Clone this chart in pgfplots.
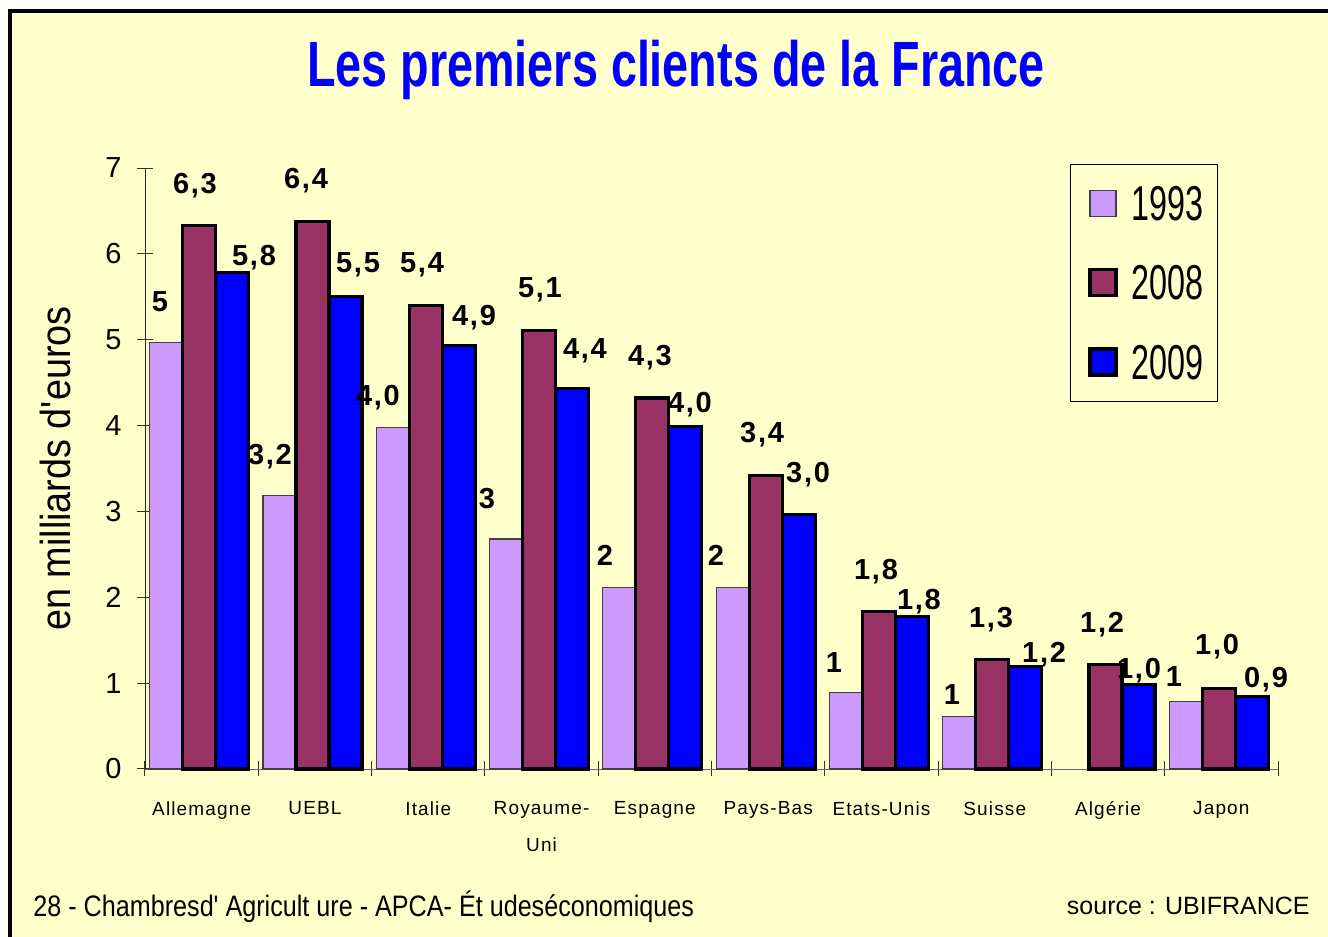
\documentclass[border=0pt]{standalone}
\usepackage{fontspec}
\setmainfont{Liberation Sans}
\newfontfamily\titlefont[FakeStretch=0.73]{Liberation Sans}
\newfontfamily\legfont[FakeStretch=0.66]{Liberation Sans}
\newfontfamily\ylabfont[FakeStretch=0.9]{Liberation Sans}
\newfontfamily\lblfont[LetterSpace=6]{Liberation Sans}
\newfontfamily\catfont[LetterSpace=6]{Liberation Sans}
\newfontfamily\footfont[FakeStretch=0.85]{Liberation Sans}
\usepackage{pgfplots}
\usepackage{pgfplotstable}
\pgfplotsset{compat=1.18}

\definecolor{bg}{HTML}{FFFFCC}
\definecolor{c93}{HTML}{CC99FF}
\definecolor{c08}{HTML}{993366}
\definecolor{c09}{HTML}{0000FF}

% bar values (milliards d'euros), category index 0..9
\pgfplotstableread{
x y
0 4.97
1 3.19
2 3.98
3 2.68
4 2.11
5 2.11
6 0.89
7 0.61
9 0.79
}\tA
\pgfplotstableread{
x y
0 6.33
1 6.38
2 5.40
3 5.11
4 4.32
5 3.42
6 1.83
7 1.28
8 1.22
9 0.94
}\tB
\pgfplotstableread{
x y
0 5.78
1 5.50
2 4.93
3 4.43
4 3.99
5 2.96
6 1.78
7 1.19
8 0.98
9 0.84
}\tC

% where the printed labels sit (as in the original, not right on the bars)
\pgfplotstableread{
x y lab
-0.368 5.439 5
0.603 3.634 3,2
1.556 4.321 4,0
2.519 3.145 3
3.560 2.492 2
4.540 2.492 2
5.581 1.235 1
6.623 0.862 1
8.582 1.072 1
}\lA
\pgfplotstableread{
x y lab
-0.059 6.790 6,3
0.921 6.848 6,4
1.945 5.870 5,4
2.986 5.579 5,1
3.957 4.787 4,3
4.946 3.890 3,4
5.952 2.294 1,8
6.967 1.735 1,3
7.947 1.677 1,2
8.962 1.421 1,0
}\lB
\pgfplotstableread{
x y lab
0.462 5.952 5,8
1.380 5.870 5,5
2.404 5.253 4,9
3.383 4.868 4,4
4.310 4.239 4,0
5.352 3.424 3,0
6.331 1.945 1,8
7.435 1.328 1,2
8.273 1.141 1,0
9.394 1.037 0,9
}\lC

\pgfplotsset{
  sq/.style={legend image code/.code={\path (0pt,0pt); \draw[##1] (2pt,-6.5pt) rectangle (15pt,6.5pt);}},
  lbl/.style={
    draw=none, mark=none, forget plot,
    nodes near coords,
    point meta=explicit symbolic,
    every node near coord/.append style={anchor=center, inner sep=0pt,
      font=\lblfont\bfseries\fontsize{14.5}{16}\selectfont, text=black}
  }
}

\begin{document}
\begin{tikzpicture}[x=0.5pt,y=0.5pt]
\useasboundingbox (0,0) rectangle (1328,937);
\fill[white] (0,0) rectangle (1328,937);
\fill[bg] (10,0) rectangle (1328,926);
\draw[line width=2pt] (10,0) -- (10,926) -- (1328,926);

\begin{axis}[
  at={(72.5pt,84pt)}, anchor=south west,
  scale only axis, width=566.5pt, height=300.5pt,
  xmin=-0.5, xmax=9.5, ymin=0, ymax=7,
  clip=false,
  axis x line*=bottom, axis y line*=left,
  axis line style={-},
  x axis line style={draw=black!60},
  y axis line style={draw=black!85},
  xtick={-0.5,0.5,...,9.5},
  x tick label as interval,
  xticklabels={Allemagne,UEBL,Italie,Royaume-\\Uni,Espagne,Pays-Bas,Etats-Unis,Suisse,Algérie,Japon},
  x tick label style={font=\catfont\fontsize{9.5}{18.5}\selectfont, align=center, yshift=-9pt},
  ytick={0,...,7},
  y tick label style={font=\fontsize{14.5}{16}\selectfont, xshift=-4.5pt},
  /pgf/number format/assume math mode=true,
  tick align=center, major tick length=7.5pt,
  tick style={draw=black!80, line width=0.5pt},
  ylabel={en milliards d'euros},
  every axis y label/.style={at={(axis description cs:-0.0794,0.5)}, rotate=90, anchor=center,
    font=\ylabfont\fontsize{21}{24}\selectfont},
  legend style={at={(0.8164,1.0067)}, anchor=north west, draw=black, fill=none,
    font=\legfont\fontsize{24.5}{26}\selectfont, inner xsep=7pt, inner ysep=11pt,
    nodes={inner sep=0pt, text depth=0pt}, column sep=7pt, row sep=22.5pt},
  legend cell align=left,
]
\addplot[ybar, bar width=16.5pt, bar shift=-17.75pt, fill=c93, draw=black!75, line width=0.6pt, forget plot]
  table[x=x, y=y]{\tA};
\addplot[lbl] table[x=x, y=y, meta=lab]{\lA};
\addplot[ybar, bar width=16.5pt, bar shift=-1.25pt, fill=c08, draw=black, line width=1.6pt, forget plot]
  table[x=x, y=y]{\tB};
\addplot[lbl] table[x=x, y=y, meta=lab]{\lB};
\addplot[ybar, bar width=16.5pt, bar shift=15.25pt, fill=c09, draw=black, line width=1.6pt, forget plot]
  table[x=x, y=y]{\tC};
\addplot[lbl] table[x=x, y=y, meta=lab]{\lC};
\addlegendimage{sq, fill=c93, draw=black!75, line width=0.6pt}
\addlegendentry{1993}
\addlegendimage{sq, fill=c08, draw=black, line width=1.6pt}
\addlegendentry{2008}
\addlegendimage{sq, fill=c09, draw=black, line width=1.6pt}
\addlegendentry{2009}
\end{axis}

\node[anchor=base, text=c09, font=\titlefont\bfseries\fontsize{32}{36}\selectfont] at (676,850) {Les premiers clients de la France};
\node[anchor=base west, inner sep=0pt, font=\footfont\fontsize{14.8}{16}\selectfont] at (33,20) {28 - Chambresd' Agricult ure - APCA- Ét udeséconomiques};
\node[anchor=base east, inner sep=0pt, font=\fontsize{12.5}{14}\selectfont] at (1310,22) {source : UBIFRANCE};
\end{tikzpicture}
\end{document}
